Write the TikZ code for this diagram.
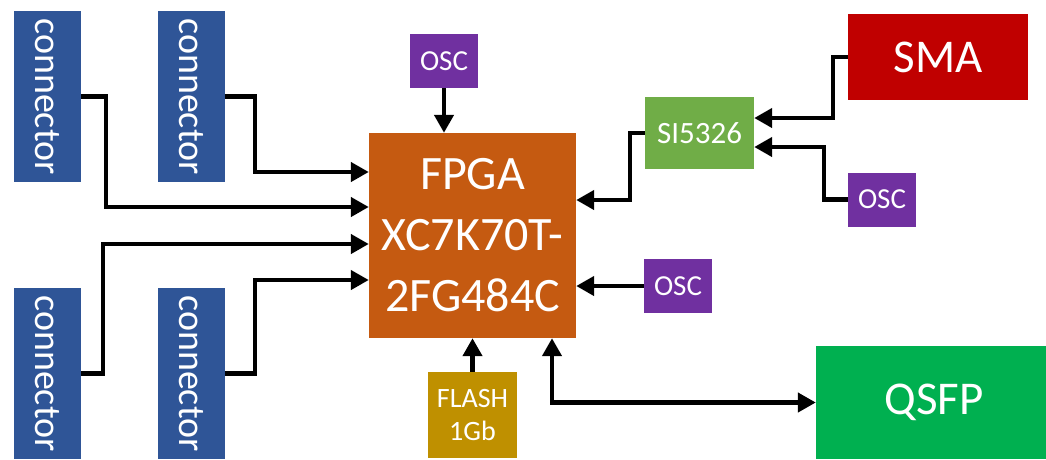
\documentclass[tikz,border=0pt]{standalone}
\usepackage{fontspec}
\setmainfont{Carlito}
\usepackage{tikz}
\usetikzlibrary{arrows.meta, positioning, calc}
\usepackage{xcolor}

\definecolor{connblue}{HTML}{2F5597}
\definecolor{fpgaorange}{HTML}{C55A11}
\definecolor{oscpurple}{HTML}{7030A0}
\definecolor{sigreen}{HTML}{70AD47}
\definecolor{smared}{HTML}{C00000}
\definecolor{qsfpgreen}{HTML}{00B050}
\definecolor{flashgold}{HTML}{BF9000}

\tikzset{
  block/.style={rectangle, inner sep=0pt, text=white, align=center},
  conn/.style={block, fill=connblue, minimum width=67pt, minimum height=171pt,
    font=\fontsize{38}{42}\selectfont},
  osc/.style={block, fill=oscpurple, minimum width=68pt, minimum height=54pt,
    font=\fontsize{29}{32}\selectfont},
  tip/.tip={Triangle[length=18pt, width=19pt]},
  wire/.style={line width=4.3pt, -tip},
}

\begin{document}
\begin{tikzpicture}[x=1pt, y=-1pt]
  \useasboundingbox (0,0) rectangle (1046,459);

  % connectors on the left
  \node[conn] (c1) at (47.5,96.5) {\rotatebox{-90}{connector}};
  \node[conn] (c2) at (191,96.5) {\rotatebox{-90}{connector}};
  \node[conn] (c3) at (47.5,373.5) {\rotatebox{-90}{connector}};
  \node[conn] (c4) at (191,373.5) {\rotatebox{-90}{connector}};

  % the FPGA
  \node[block, fill=fpgaorange, minimum width=207pt, minimum height=205pt,
    font=\fontsize{48}{61}\selectfont] (fpga) at (472.5,235.5)
    {FPGA\\XC7K70T-\\2FG484C};

  % clocks
  \node[osc] (osctop) at (444,61) {OSC};
  \node[block, fill=sigreen, minimum width=109pt, minimum height=72pt,
    font=\fontsize{31}{34}\selectfont] (si) at (699.5,133) {SI5326};
  \node[block, fill=smared, minimum width=180pt, minimum height=86pt,
    font=\fontsize{47}{50}\selectfont] (sma) at (938,57) {SMA};
  \node[osc] (oscsi) at (882,199.5) {OSC};
  \node[osc] (oscmid) at (678,286) {OSC};

  % memory and optics
  \node[block, fill=flashgold, minimum width=89pt, minimum height=86pt,
    font=\fontsize{28}{33}\selectfont] (flash) at (472.5,415) {FLASH\\1Gb};
  \node[block, fill=qsfpgreen, minimum width=236pt, minimum height=113pt,
    font=\fontsize{47}{50}\selectfont] (qsfp) at (934,402.5) {QSFP};

  % wires into the FPGA
  \draw[wire] (c1.east) -- ++(25,0) |- ([yshift=28.5pt]fpga.west);
  \draw[wire] (c2.east) -- ++(30,0) |- ([yshift=63.5pt]fpga.west);
  \draw[wire] (c3.east) -- ++(22,0) |- ([yshift=-8.5pt]fpga.west);
  \draw[wire] (c4.east) -- ++(30,0) |- ([yshift=-44.5pt]fpga.west);

  \draw[wire] (osctop.south) -- (osctop.south |- fpga.north);
  \draw[wire] (si.west) -- ++(-15,0) |- ([yshift=35.5pt]fpga.east);
  \draw[wire] (sma.west) -- ++(-15,0) |- ([yshift=15pt]si.east);
  \draw[wire] (oscsi.west) -- ++(-24,0) |- ([yshift=-14pt]si.east);
  \draw[wire] (oscmid.west) -- (oscmid.west -| fpga.east);
  \draw[wire] (flash.north) -- (flash.north |- fpga.south);
  \draw[wire, tip-tip] ([xshift=79.5pt]fpga.south) |- (qsfp.west);
\end{tikzpicture}
\end{document}
